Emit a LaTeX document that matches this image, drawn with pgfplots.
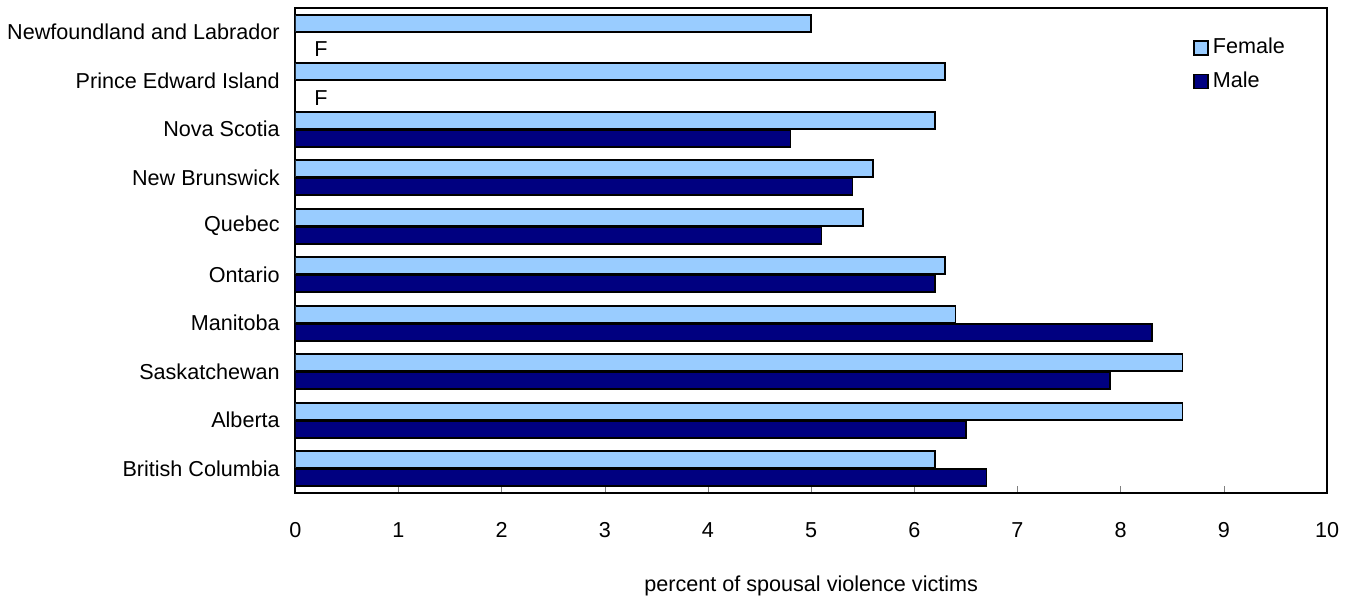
\documentclass[border=0pt]{standalone}
\usepackage{pgfplots}
\pgfplotsset{compat=1.18}
\usepackage{fontspec}
\setmainfont{Liberation Sans}
\definecolor{fem}{HTML}{99CCFF}
\definecolor{mal}{HTML}{000080}
\begin{document}
\fontsize{10.8}{13}\selectfont
\begin{tikzpicture}
\path (-147.5pt,-50pt) rectangle (528pt,246.5pt);
\begin{axis}[
  at={(0,0)}, anchor=south west,
  scale only axis, width=516pt, height=242.5pt,
  xbar, bar width=8.5pt,
  xmin=0, xmax=10, ymin=-0.5, ymax=9.5,
  xtick={0,...,10}, xtick pos=lower, tick align=inside,
  major tick length=3.5pt,
  ytick={0,...,9},
  yticklabels={British Columbia,Alberta,Saskatchewan,Manitoba,Ontario,Quebec,New Brunswick,Nova Scotia,Prince Edward Island,Newfoundland and Labrador},
  y tick style={draw=none},
  yticklabel style={xshift=-4pt},
  xticklabel style={yshift=-11pt},
  /pgf/number format/assume math mode=true,
  axis line style={line width=1pt},
  xlabel={percent of spousal violence victims},
  xlabel style={yshift=-11.5pt},
  legend style={at={(0.864,0.955)}, anchor=north west, draw=none, fill=none,
    row sep=3.5pt, font=\fontsize{10.8}{13}\selectfont},
  legend cell align=left,
  legend image code/.code={\draw[#1, draw=black, line width=0.9pt] (1pt,-3.5pt) rectangle (8pt,3.5pt);},
]
\addplot[fill=fem, draw=black, line width=0.9pt, bar shift=4.5pt] coordinates {
(6.2,0) (8.6,1) (8.6,2) (6.4,3) (6.3,4) (5.5,5) (5.6,6) (6.2,7) (6.3,8) (5.0,9)};
\addplot[fill=mal, draw=black, line width=0.9pt, bar shift=-4.5pt] coordinates {
(6.7,0) (6.5,1) (7.9,2) (8.3,3) (6.2,4) (5.1,5) (5.4,6) (4.8,7)};
\legend{Female,Male}
\node[anchor=west] at ([yshift=-8.5pt]axis cs:0.11,9) {F};
\node[anchor=west] at ([yshift=-8.5pt]axis cs:0.11,8) {F};
\end{axis}
\end{tikzpicture}
\end{document}
